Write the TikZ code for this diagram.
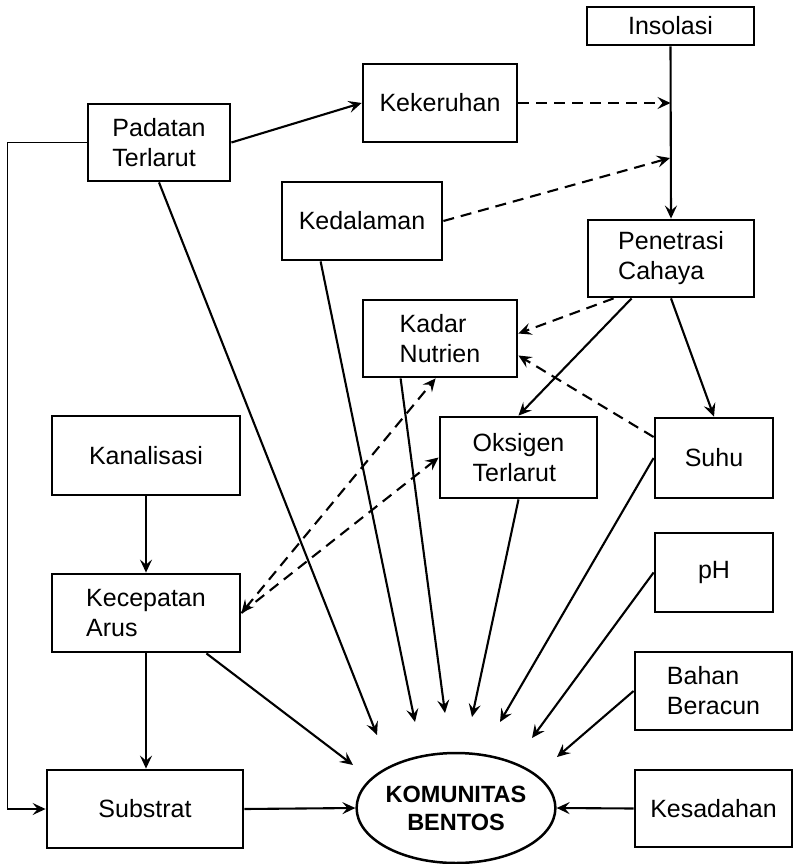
\documentclass[tikz,border=0pt]{standalone}
\usepackage{fontspec}
\setmainfont{Liberation Sans}
\usetikzlibrary{arrows.meta,shapes.geometric}
\begin{document}
\begin{tikzpicture}[x=1pt,y=-1pt,
  >={Stealth[length=13pt,width=12pt,inset=5pt]},
  box/.style={draw, line width=2.8pt, rectangle, inner sep=0pt, align=left,
              font=\fontsize{25}{30}\selectfont},
  link/.style={line width=2.1pt, ->},
  dlink/.style={link, dash pattern=on 11pt off 7pt},
]
\useasboundingbox (0,0) rectangle (793,864);

% factor boxes
\node[box, minimum width=167pt, minimum height=38pt] (ins) at (670.5,26)  {Insolasi};
\node[box, minimum width=154pt, minimum height=78pt] (kek) at (440,103)   {Kekeruhan};
\node[box, minimum width=142pt, minimum height=77pt] (pad) at (159,142.5) {Padatan\\Terlarut};
\node[box, minimum width=160pt, minimum height=78pt] (ked) at (362,221)   {Kedalaman};
\node[box, minimum width=166pt, minimum height=77pt] (pen) at (671,258.5) {Penetrasi\\Cahaya};
\node[box, minimum width=154pt, minimum height=77pt] (kad) at (440,338.5) {Kadar\\Nutrien};
\node[box, minimum width=188pt, minimum height=79pt] (kan) at (146,455.5) {Kanalisasi};
\node[box, minimum width=157pt, minimum height=81pt] (oks) at (518.5,457.5) {Oksigen\\Terlarut};
\node[box, minimum width=118pt, minimum height=80pt] (suh) at (714,458)   {Suhu};
\node[box, minimum width=118pt, minimum height=79pt] (ph)  at (714,572.5) {pH};
\node[box, minimum width=188pt, minimum height=78pt] (kec) at (146,613)   {Kecepatan\\Arus};
\node[box, minimum width=157pt, minimum height=78pt] (bah) at (713.5,691) {Bahan\\Beracun};
\node[box, minimum width=157pt, minimum height=77pt] (kes) at (713.5,808.5) {Kesadahan};
\node[box, minimum width=196pt, minimum height=78pt] (sub) at (145,809)   {Substrat};

% central ellipse
\node[draw, ellipse, line width=2.5pt, inner sep=0pt, minimum width=198pt, minimum height=110pt,
      align=center, font=\bfseries\fontsize{23.5}{28}\selectfont] (kom) at (456,808) {KOMUNITAS\\BENTOS};

% free arrow ends around the ellipse
\coordinate (tpad) at (377,735);
\coordinate (tked) at (415,722);
\coordinate (tkad) at (445,713);
\coordinate (toks) at (472,717);
\coordinate (tsuh) at (500,722);
\coordinate (tph)  at (532,738);
\coordinate (tbah) at (557,757);
\coordinate (tkec) at (353,765);

% points on the Insolasi line
\coordinate (j1) at (ins.south |- kek.east);
\coordinate (j2) at (670,158);

% solid influences
\draw[link] (pad.east) -- (kek.west);
\draw[link, line width=1.6pt] (pad.west) -- ++(-79,0) |- (sub.west);
\draw[link] (ins.south) -- (pen.north);
\draw[link] ([xshift=45pt]pen.south west) -- (oks.north);
\draw[link] (pen.south) -- (suh.north);
\draw[link, line width=1.6pt] (kan.south) -- (kec.north);
\draw[link] (kec.south) -- (kec.south |- sub.north);

% influences on the benthic community
\draw[link] (pad.south) -- (tpad);
\draw[link] ([xshift=40pt]ked.south west) -- (tked);
\draw[link] ([xshift=39pt]kad.south west) -- (tkad);
\draw[link] (oks.south) -- (toks);
\draw[link] (suh.west) -- (tsuh);
\draw[link] (ph.west) -- (tph);
\draw[link] (bah.west) -- (tbah);
\draw[link] ([xshift=-35pt]kec.south east) -- (tkec);
\draw[link] (sub.east) -- (kom.west);
\draw[link] (kes.west) -- (kom.east);

% dashed influences
\draw[dlink] (kek.east) -- (j1);
\draw[dlink] (ked.east) -- (j2);
\draw[dlink] ([xshift=27pt]pen.south west) -- ([yshift=5pt]kad.east);
\draw[dlink] ([yshift=21pt]suh.west) -- ([yshift=-17pt]kad.east);
\draw[dlink, <->] (kec.east) -- ([xshift=74pt]kad.south west);
\draw[dlink] (kec.east) -- (oks.west);
\end{tikzpicture}
\end{document}
